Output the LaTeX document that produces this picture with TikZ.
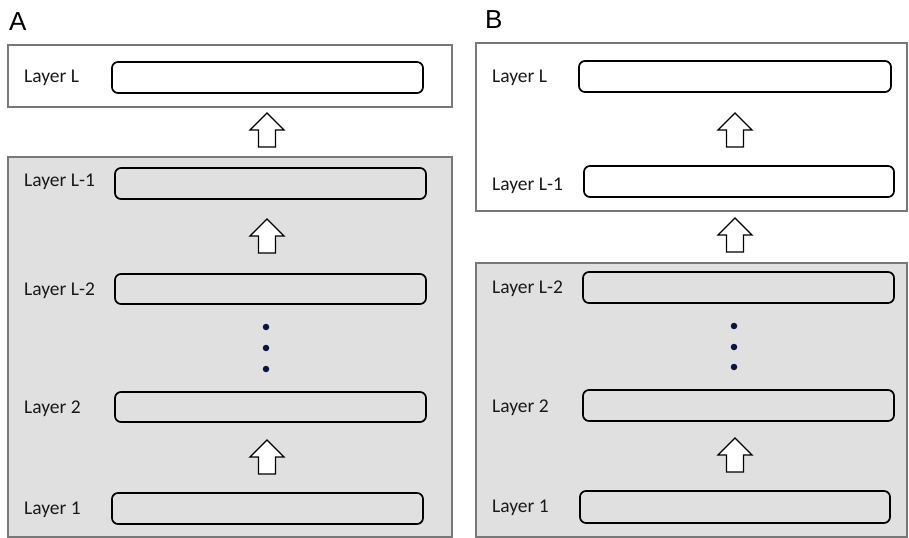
\documentclass[tikz,border=0pt]{standalone}
\usepackage{fontspec}
\setmainfont{Carlito}
\newfontfamily\panelfont{Liberation Sans}
\definecolor{panelgray}{RGB}{224,224,224}
\definecolor{framegray}{RGB}{120,120,120}
\definecolor{dotblue}{RGB}{10,20,60}
\definecolor{labelink}{RGB}{25,25,25}
\tikzset{
  panelwhite/.style={draw=framegray,line width=1.3pt,fill=white},
  panelshade/.style={draw=framegray,line width=1.3pt,fill=panelgray},
  layerbox/.style={draw=black,line width=1.7pt,rounded corners=6bp},
  layerlabel/.style={anchor=base west,inner sep=0pt,text=labelink,font=\fontsize{19.5bp}{21bp}\selectfont},
  paneltag/.style={anchor=base west,inner sep=0pt,font=\panelfont\fontsize{26bp}{28bp}\selectfont},
  blockarrow/.style={draw=black,line width=1.4pt,fill=white,line join=miter},
  vdot/.style={circle,fill=dotblue,inner sep=0pt,minimum size=6.5bp}
}
\newcommand{\uparrowat}[1]{%
  \draw[blockarrow] (#1) -- ++(17,17) -- ++(-8.5,0) -- ++(0,17) -- ++(-17,0) -- ++(0,-17) -- ++(-8.5,0) -- cycle;}
\begin{document}
\begin{tikzpicture}[x=1bp,y=-1bp]
\useasboundingbox (0,0) rectangle (909,538);
% ---------- Panel A ----------
\node[paneltag] (tagA) at (9,31) {A};
\draw[panelwhite] (8,45) rectangle (452,107);
\draw[panelshade] (8,157) rectangle (452,537);
\node[layerlabel] (aLtext) at (24,83) {Layer L};
\node[layerlabel] (aL1text) at (24,187) {Layer L-1};
\node[layerlabel] (aL2text) at (24,296) {Layer L-2};
\node[layerlabel] (a2text) at (24,413) {Layer 2};
\node[layerlabel] (a1text) at (24,514) {Layer 1};
\draw[layerbox,fill=white] (112,62) rectangle (423,93);
\draw[layerbox] (115,168) rectangle (426,199);
\draw[layerbox] (115,274) rectangle (426,304);
\draw[layerbox] (115,392) rectangle (426,422);
\draw[layerbox] (112,493) rectangle (423,524);
\coordinate (aArr1) at (267,113);
\coordinate (aArr2) at (267,219);
\coordinate (aArr3) at (267,440);
\uparrowat{aArr1}
\uparrowat{aArr2}
\uparrowat{aArr3}
\node[vdot] (aDot1) at (266,327) {};
\node[vdot] (aDot2) at (266,348) {};
\node[vdot] (aDot3) at (266,369) {};
% ---------- Panel B ----------
\node[paneltag] (tagB) at (485,29) {B};
\draw[panelwhite] (476,43) rectangle (907,211);
\draw[panelshade] (476,263) rectangle (907,537);
\node[layerlabel] (bLtext) at (492,83) {Layer L};
\node[layerlabel] (bL1text) at (492,191) {Layer L-1};
\node[layerlabel] (bL2text) at (492,294) {Layer L-2};
\node[layerlabel] (b2text) at (492,412) {Layer 2};
\node[layerlabel] (b1text) at (492,512) {Layer 1};
\draw[layerbox,fill=white] (579,61) rectangle (891,92);
\draw[layerbox,fill=white] (584,166) rectangle (894,197);
\draw[layerbox] (583,272) rectangle (894,303);
\draw[layerbox] (583,390) rectangle (894,421);
\draw[layerbox] (580,491) rectangle (890,523);
\coordinate (bArr1) at (735,113);
\coordinate (bArr2) at (735,218);
\coordinate (bArr3) at (735,438);
\uparrowat{bArr1}
\uparrowat{bArr2}
\uparrowat{bArr3}
\node[vdot] (bDot1) at (734,326) {};
\node[vdot] (bDot2) at (734,347) {};
\node[vdot] (bDot3) at (734,367) {};
\end{tikzpicture}
\end{document}
